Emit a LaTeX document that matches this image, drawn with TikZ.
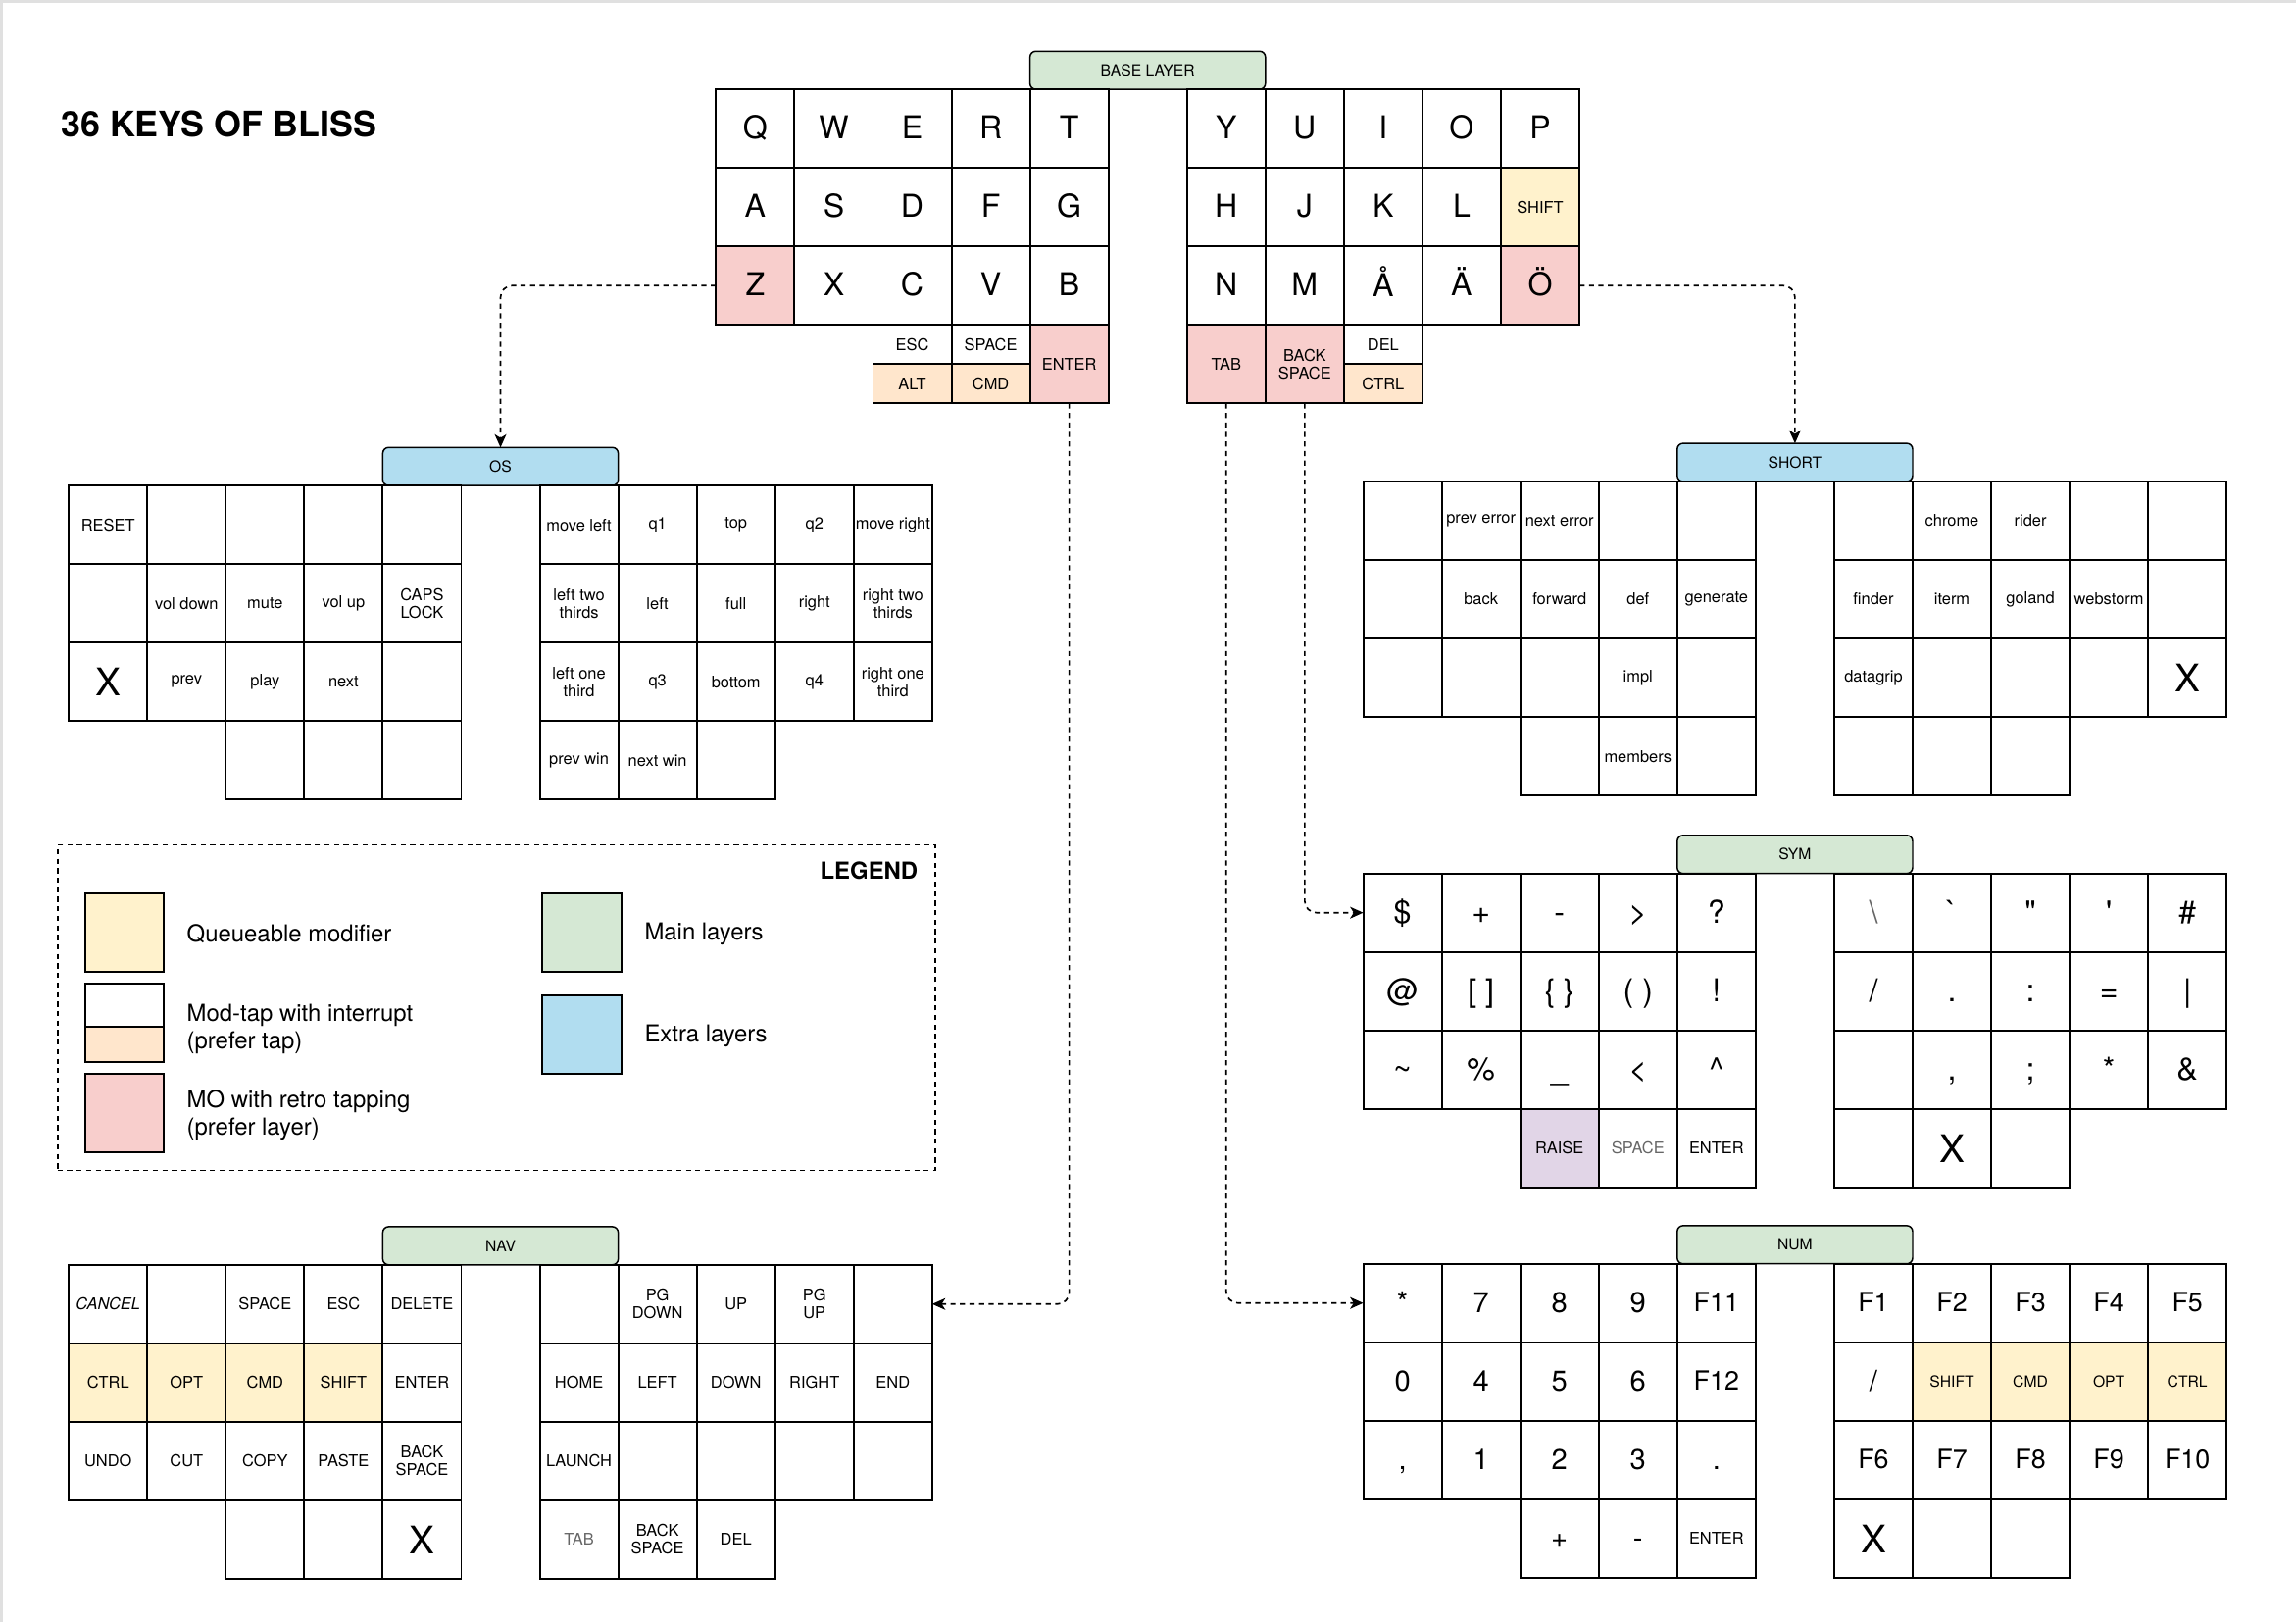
\documentclass[tikz,border=0pt]{standalone}
\usepackage{fontspec}
\setmainfont{TeX Gyre Heros}
\usetikzlibrary{arrows.meta}
\definecolor{cpink}{HTML}{F8CECC}
\definecolor{cyel}{HTML}{FFF2CC}
\definecolor{cpeach}{HTML}{FFE6CC}
\definecolor{cgreen}{HTML}{D5E8D4}
\definecolor{cblue}{HTML}{B1DDF0}
\definecolor{cpurp}{HTML}{E1D5E7}
\newcommand\fsm{\fontsize{11}{12}\selectfont}
\newcommand\fsmm{\fontsize{10.5}{12}\selectfont}
\newcommand\fbig{\fontsize{21.5}{24}\selectfont}
\newcommand\fdig{\fontsize{19.5}{22}\selectfont}
\newcommand\ffk{\fontsize{18}{20}\selectfont}
\newcommand\fxx{\fontsize{26}{28}\selectfont}
\newcommand\flab{\fontsize{10.5}{12}\selectfont}
\newcommand\fleg{\fontsize{16}{19}\selectfont}
\newcommand\fttl{\fontsize{24}{28}\selectfont\bfseries}
\newcommand\strutB{\rule[-0.25em]{0pt}{1.15em}}
\newcommand\KW{53.6}
\newcommand\Lay[3]{\def\LN{#1}\def\OX{#2}\def\OY{#3}}
\newcommand\K[4][]{\node[key,#1] (\LN-#2-#3) at ({\OX+(#2+0.5)*\KW},{\OY+(#3+0.5)*\KW}) {#4};}
\newcommand\Kt[3][]{\node[key,halfk,#1] (\LN-#2-3t) at ({\OX+(#2+0.5)*\KW},{\OY+3.25*\KW}) {#3};}
\newcommand\Kb[3][]{\node[key,halfk,#1] (\LN-#2-3b) at ({\OX+(#2+0.5)*\KW},{\OY+3.75*\KW}) {#3};}
\newcommand\Lab[2]{\node[labbox,fill=#1] (\LN-lab) at ({\OX+5.5*\KW},{\OY-13}) {#2};}
\begin{document}
\begin{tikzpicture}[x=1pt,y=-1pt,
  key/.style={draw=black,line width=1.3pt,rectangle,minimum width=53.6pt,minimum height=53.6pt,
    inner sep=0pt,outer sep=0pt,align=center,fill=white,font=\fsm},
  halfk/.style={minimum height=26.8pt},
  big/.style={font=\fbig,execute at begin node=\strutB},
  dig/.style={font=\fdig,execute at begin node=\strutB},
  fk/.style={font=\ffk,execute at begin node=\strutB},
  xx/.style={font=\fxx},
  smm/.style={font=\fsmm},
  grey/.style={text=black!60},
  labbox/.style={draw=black,line width=1pt,rounded corners=4pt,minimum width=160.8pt,
    minimum height=26pt,inner sep=0pt,outer sep=0pt,font=\flab},
  conn/.style={draw=black,line width=1.1pt,dash pattern=on 3.5pt off 3pt,rounded corners=8pt,
    -{Stealth[length=9pt,width=8pt,inset=2.5pt]}},
  legtxt/.style={font=\fleg,anchor=west,align=left,inner sep=0pt},
  swatch/.style={draw=black,line width=1.3pt,minimum width=53.9pt,inner sep=0pt,outer sep=0pt}
]
\useasboundingbox (0,0) rectangle (1568,1107.35);
\fill[white] (0,0) rectangle (1568,1107.35);
\draw[black!12,line width=2pt] (0,1) -- (1568,1);
\draw[black!12,line width=2pt] (1,0) -- (1,1107.35);

\node[font=\fttl,anchor=west,inner sep=0pt] (title) at (41.5,84.4) {36 KEYS OF BLISS};

% ---------------- BASE
\Lay{base}{489}{61}
\Lab{cgreen}{BASE LAYER}
\K[big]{0}{0}{Q}\K[big]{1}{0}{W}\K[big]{2}{0}{E}\K[big]{3}{0}{R}\K[big]{4}{0}{T}
\K[big]{6}{0}{Y}\K[big]{7}{0}{U}\K[big]{8}{0}{I}\K[big]{9}{0}{O}\K[big]{10}{0}{P}
\K[big]{0}{1}{A}\K[big]{1}{1}{S}\K[big]{2}{1}{D}\K[big]{3}{1}{F}\K[big]{4}{1}{G}
\K[big]{6}{1}{H}\K[big]{7}{1}{J}\K[big]{8}{1}{K}\K[big]{9}{1}{L}\K[fill=cyel]{10}{1}{SHIFT}
\K[big,fill=cpink]{0}{2}{Z}\K[big]{1}{2}{X}\K[big]{2}{2}{C}\K[big]{3}{2}{V}\K[big]{4}{2}{B}
\K[big]{6}{2}{N}\K[big]{7}{2}{M}\K[big]{8}{2}{Å}\K[big]{9}{2}{Ä}\K[big,fill=cpink]{10}{2}{Ö}
\Kt{2}{ESC}\Kb[fill=cpeach]{2}{ALT}
\Kt{3}{SPACE}\Kb[fill=cpeach]{3}{CMD}
\K[fill=cpink]{4}{3}{ENTER}
\K[fill=cpink]{6}{3}{TAB}
\K[fill=cpink]{7}{3}{BACK\\SPACE}
\Kt{8}{DEL}\Kb[fill=cpeach]{8}{CTRL}

% ---------------- OS
\Lay{os}{47}{331.5}
\Lab{cblue}{OS}
\K{0}{0}{RESET}\K{1}{0}{}\K{2}{0}{}\K{3}{0}{}\K{4}{0}{}
\K{6}{0}{move left}\K{7}{0}{q1}\K{8}{0}{top}\K{9}{0}{q2}\K{10}{0}{move right}
\K{0}{1}{}\K{1}{1}{vol down}\K{2}{1}{mute}\K{3}{1}{vol up}\K{4}{1}{CAPS\\LOCK}
\K{6}{1}{left two\\thirds}\K{7}{1}{left}\K{8}{1}{full}\K{9}{1}{right}\K{10}{1}{right two\\thirds}
\K[xx]{0}{2}{X}\K{1}{2}{prev}\K{2}{2}{play}\K{3}{2}{next}\K{4}{2}{}
\K{6}{2}{left one\\third}\K{7}{2}{q3}\K{8}{2}{bottom}\K{9}{2}{q4}\K{10}{2}{right one\\third}
\K{2}{3}{}\K{3}{3}{}\K{4}{3}{}
\K{6}{3}{prev win}\K{7}{3}{next win}\K{8}{3}{}

% ---------------- SHORT
\Lay{short}{931}{328.7}
\Lab{cblue}{SHORT}
\K{0}{0}{}\K{1}{0}{prev error}\K{2}{0}{next error}\K{3}{0}{}\K{4}{0}{}
\K{6}{0}{}\K{7}{0}{chrome}\K{8}{0}{rider}\K{9}{0}{}\K{10}{0}{}
\K{0}{1}{}\K{1}{1}{back}\K{2}{1}{forward}\K{3}{1}{def}\K{4}{1}{generate}
\K{6}{1}{finder}\K{7}{1}{iterm}\K{8}{1}{goland}\K{9}{1}{webstorm}\K{10}{1}{}
\K{0}{2}{}\K{1}{2}{}\K{2}{2}{}\K{3}{2}{impl}\K{4}{2}{}
\K{6}{2}{datagrip}\K{7}{2}{}\K{8}{2}{}\K{9}{2}{}\K[xx]{10}{2}{X}
\K{2}{3}{}\K{3}{3}{members}\K{4}{3}{}
\K{6}{3}{}\K{7}{3}{}\K{8}{3}{}

% ---------------- SYM
\Lay{sym}{931}{596.3}
\Lab{cgreen}{SYM}
\K[big]{0}{0}{\$}\K[big]{1}{0}{+}\K[big]{2}{0}{-}\K[big]{3}{0}{>}\K[big]{4}{0}{?}
\K[big,grey]{6}{0}{\textbackslash}\K[big]{7}{0}{\textasciigrave}\K[big]{8}{0}{\textquotedbl}\K[big]{9}{0}{\textquotesingle}\K[big]{10}{0}{\#}
\K[big]{0}{1}{@}\K[big]{1}{1}{[ ]}\K[big]{2}{1}{\{ \}}\K[big]{3}{1}{( )}\K[big]{4}{1}{!}
\K[big]{6}{1}{/}\K[big]{7}{1}{.}\K[big]{8}{1}{:}\K[big]{9}{1}{=}\K[big]{10}{1}{\textbar}
\K[big]{0}{2}{\textasciitilde}\K[big]{1}{2}{\%}\K[big]{2}{2}{\_}\K[big]{3}{2}{<}\K[big]{4}{2}{\textasciicircum}
\K{6}{2}{}\K[big]{7}{2}{,}\K[big]{8}{2}{;}\K[big]{9}{2}{*}\K[big]{10}{2}{\&}
\K[fill=cpurp]{2}{3}{RAISE}\K[grey]{3}{3}{SPACE}\K{4}{3}{ENTER}
\K{6}{3}{}\K[xx]{7}{3}{X}\K{8}{3}{}

% ---------------- NAV
\Lay{nav}{47}{863.5}
\Lab{cgreen}{NAV}
\K{0}{0}{\textit{CANCEL}}\K{1}{0}{}\K{2}{0}{SPACE}\K{3}{0}{ESC}\K{4}{0}{DELETE}
\K{6}{0}{}\K{7}{0}{PG\\DOWN}\K{8}{0}{UP}\K{9}{0}{PG\\UP}\K{10}{0}{}
\K[fill=cyel]{0}{1}{CTRL}\K[fill=cyel]{1}{1}{OPT}\K[fill=cyel]{2}{1}{CMD}\K[fill=cyel]{3}{1}{SHIFT}\K{4}{1}{ENTER}
\K{6}{1}{HOME}\K{7}{1}{LEFT}\K{8}{1}{DOWN}\K{9}{1}{RIGHT}\K{10}{1}{END}
\K{0}{2}{UNDO}\K{1}{2}{CUT}\K{2}{2}{COPY}\K{3}{2}{PASTE}\K{4}{2}{BACK\\SPACE}
\K{6}{2}{LAUNCH}\K{7}{2}{}\K{8}{2}{}\K{9}{2}{}\K{10}{2}{}
\K{2}{3}{}\K{3}{3}{}\K[xx]{4}{3}{X}
\K[grey]{6}{3}{TAB}\K{7}{3}{BACK\\SPACE}\K{8}{3}{DEL}

% ---------------- NUM
\Lay{num}{931}{862.8}
\Lab{cgreen}{NUM}
\K[dig]{0}{0}{*}\K[dig]{1}{0}{7}\K[dig]{2}{0}{8}\K[dig]{3}{0}{9}\K[fk]{4}{0}{F11}
\K[fk]{6}{0}{F1}\K[fk]{7}{0}{F2}\K[fk]{8}{0}{F3}\K[fk]{9}{0}{F4}\K[fk]{10}{0}{F5}
\K[dig]{0}{1}{0}\K[dig]{1}{1}{4}\K[dig]{2}{1}{5}\K[dig]{3}{1}{6}\K[fk]{4}{1}{F12}
\K[dig]{6}{1}{/}\K[smm,fill=cyel]{7}{1}{SHIFT}\K[smm,fill=cyel]{8}{1}{CMD}\K[smm,fill=cyel]{9}{1}{OPT}\K[smm,fill=cyel]{10}{1}{CTRL}
\K[dig]{0}{2}{,}\K[dig]{1}{2}{1}\K[dig]{2}{2}{2}\K[dig]{3}{2}{3}\K[dig]{4}{2}{.}
\K[fk]{6}{2}{F6}\K[fk]{7}{2}{F7}\K[fk]{8}{2}{F8}\K[fk]{9}{2}{F9}\K[fk]{10}{2}{F10}
\K[dig]{2}{3}{+}\K[dig]{3}{3}{-}\K{4}{3}{ENTER}
\K[xx]{6}{3}{X}\K{7}{3}{}\K{8}{3}{}

% ---------------- connectors
\draw[conn] (base-0-2.west) -| (os-lab.north);
\draw[conn] (base-10-2.east) -| (short-lab.north);
\draw[conn] (base-4-3.south) |- (nav-10-0.east);
\draw[conn] (base-6-3.south) |- (num-0-0.west);
\draw[conn] (base-7-3.south) |- (sym-0-0.west);

% ---------------- legend
\node[draw=black,line width=1pt,dash pattern=on 3.5pt off 3pt,minimum width=599.3pt,
  minimum height=222.1pt,inner sep=0pt] (legend) at (339,688) {};
\node[font=\fleg\bfseries,anchor=east,inner sep=0pt] (legtitle) at (627,594.5) {LEGEND};
\node[swatch,fill=cyel,minimum height=53.8pt] (sw-queue) at (85.1,636.6) {};
\node[swatch,fill=white,minimum height=29.5pt] (sw-modtop) at (85.1,686.05) {};
\node[swatch,fill=cpeach,minimum height=24.1pt] (sw-modbot) at (85.1,712.85) {};
\node[swatch,fill=cpink,minimum height=53.6pt] (sw-mo) at (85.1,759.9) {};
\node[swatch,fill=cgreen,minimum height=53.8pt] (sw-main) at (397.5,636.6) {};
\node[swatch,fill=cblue,minimum height=53.8pt] (sw-extra) at (397.5,706.2) {};
\node[legtxt] (lt-queue) at (127.5,637.5) {Queueable modifier};
\node[legtxt] (lt-mod) at (127.5,702.5) {Mod-tap with interrupt\\(prefer tap)};
\node[legtxt] (lt-mo) at (127.5,761.5) {MO with retro tapping\\(prefer layer)};
\node[legtxt] (lt-main) at (440,637.5) {Main layers};
\node[legtxt] (lt-extra) at (440,707.5) {Extra layers};
\end{tikzpicture}
\end{document}
